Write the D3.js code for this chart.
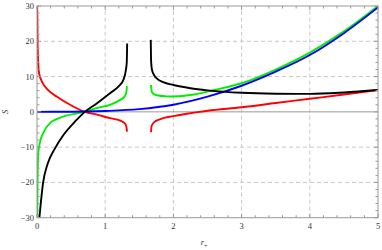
<!DOCTYPE html>
<html>
<head>
<meta charset="utf-8">
<script src="https://cdn.jsdelivr.net/npm/d3@7"></script>
<style>
  body { margin: 0; background: #fff; }
  svg { display: block; }
</style>
</head>
<body>
<div id="chart"></div>
<script>
// values, [r+, S]
const xTicks = [0, 1, 2, 3, 4, 5];
const yTicks = [-30, -20, -10, 0, 10, 20, 30];

const blue = [[0, 0], [0.5, 0.03], [1, 0.25], [1.5, 0.76], [2, 2.0], [2.5, 4.3],
  [3, 7.4], [3.5, 11.4], [4, 16.1], [4.5, 22.3], [5, 29.6]];

const greenLeft = [[0.004, -30], [0.008, -20], [0.02, -11.5], [0.045, -8.5], [0.09, -6],
  [0.19, -3.2], [0.39, -1.3], [0.7, 0], [0.9, 1.2], [1.07, 2.0], [1.22, 3.4],
  [1.29, 4.5], [1.31, 5.6], [1.318, 7.3]];
const greenRight = [[1.672, 7.6], [1.68, 6.0], [1.7, 5.2], [1.76, 4.7], [1.9, 4.4],
  [2.0, 4.35], [2.3, 4.9], [2.6, 6.2], [3, 8.1], [3.5, 12.0], [4, 16.8],
  [4.5, 22.8], [5, 30]];

const redLeft = [[0.003, 30], [0.01, 18], [0.03, 11], [0.08, 8.3], [0.16, 6.2],
  [0.3, 4.2], [0.44, 2.5], [0.7, 0], [0.88, -0.8], [1.07, -1.8], [1.22, -2.5],
  [1.29, -3.3], [1.31, -4.2], [1.32, -5.6]];
const redRight = [[1.672, -5.8], [1.68, -4.0], [1.72, -2.9], [1.8, -2.1], [2.0, -1.2],
  [2.5, 0.3], [3, 1.3], [3.5, 2.5], [4, 3.7], [4.5, 4.9], [5, 6.2]];

const blackLeft = [[0.035, -30], [0.09, -20], [0.16, -14.5], [0.26, -10.5], [0.39, -6.5],
  [0.58, -2.3], [0.7, 0], [0.88, 2.45], [1.07, 5.3], [1.2, 7.3], [1.27, 9.2],
  [1.3, 11.5], [1.316, 14], [1.322, 19.4]];
const blackRight = [[1.668, 20.4], [1.672, 15], [1.685, 12], [1.72, 10.3], [1.76, 9.4],
  [1.85, 8.4], [2.0, 7.6], [2.25, 6.7], [2.5, 6.1], [3, 5.4], [3.5, 5.15],
  [4, 5.1], [4.5, 5.5], [5, 6.2]];

const series = [
  { name: "red", color: "#ff0000", parts: [redLeft, redRight] },
  { name: "green", color: "#00ee00", parts: [greenLeft, greenRight] },
  { name: "blue", color: "#0000ff", parts: [blue] },
  { name: "black", color: "#000000", parts: [blackLeft, blackRight] }
];

const W = 382, H = 250;
const margin = { top: 6, right: 4, bottom: 32.3, left: 37 };

const svg = d3.select("#chart").append("svg")
  .attr("width", W).attr("height", H);

const x = d3.scaleLinear().domain([0, 5]).range([margin.left, W - margin.right]);
const y = d3.scaleLinear().domain([-30, 30]).range([H - margin.bottom, margin.top]);

// grid
svg.append("g")
  .attr("stroke", "#c8c8c8").attr("stroke-dasharray", "4,3").attr("stroke-width", 1)
  .selectAll("line")
  .data([1, 2, 3, 4])
  .join("line")
  .attr("x1", d => x(d)).attr("x2", d => x(d))
  .attr("y1", y(-30)).attr("y2", y(30));
svg.append("g")
  .attr("stroke", "#c8c8c8").attr("stroke-dasharray", "4,3").attr("stroke-width", 1)
  .selectAll("line")
  .data([-20, -10, 10, 20])
  .join("line")
  .attr("x1", x(0)).attr("x2", x(5))
  .attr("y1", d => y(d)).attr("y2", d => y(d));

// zero axis
svg.append("line")
  .attr("x1", x(0)).attr("x2", x(5))
  .attr("y1", y(0)).attr("y2", y(0))
  .attr("stroke", "#999").attr("stroke-width", 1);

// curves
svg.append("clipPath").attr("id", "clip")
  .append("rect")
  .attr("x", x(0)).attr("y", y(30))
  .attr("width", x(5) - x(0)).attr("height", y(-30) - y(30));

const line = d3.line()
  .x(d => x(d[0])).y(d => y(d[1]))
  .curve(d3.curveMonotoneX);

const curves = svg.append("g").attr("clip-path", "url(#clip)")
  .attr("fill", "none").attr("stroke-width", 1.9)
  .attr("stroke-linejoin", "round");
series.forEach(s => {
  curves.selectAll(null)
    .data(s.parts)
    .join("path")
    .attr("stroke", s.color)
    .attr("d", line);
});

// frame with inside ticks on all four sides
const frame = svg.append("g").attr("stroke", "#999").attr("stroke-width", 1);
frame.append("rect")
  .attr("x", x(0)).attr("y", y(30))
  .attr("width", x(5) - x(0)).attr("height", y(-30) - y(30))
  .attr("fill", "none");

const xMinor = d3.range(0, 5.001, 0.2).map(v => +v.toFixed(1));
const yMinor = d3.range(-30, 30.001, 2);
const isMajorX = v => Math.abs(v - Math.round(v)) < 1e-6;
const isMajorY = v => v % 10 === 0;

xMinor.forEach(v => {
  const len = isMajorX(v) ? 4 : 2.5;
  frame.append("line").attr("x1", x(v)).attr("x2", x(v))
    .attr("y1", y(-30)).attr("y2", y(-30) - len);
  frame.append("line").attr("x1", x(v)).attr("x2", x(v))
    .attr("y1", y(30)).attr("y2", y(30) + len);
});
yMinor.forEach(v => {
  const len = isMajorY(v) ? 4 : 2.5;
  frame.append("line").attr("y1", y(v)).attr("y2", y(v))
    .attr("x1", x(0)).attr("x2", x(0) + len);
  frame.append("line").attr("y1", y(v)).attr("y2", y(v))
    .attr("x1", x(5)).attr("x2", x(5) - len);
});

// tick labels
const labels = svg.append("g")
  .attr("font-family", "'Liberation Serif', 'DejaVu Serif', serif")
  .attr("font-size", 8.5).attr("fill", "#333");
labels.selectAll(".xl")
  .data(xTicks)
  .join("text")
  .attr("x", d => x(d)).attr("y", y(-30) + 11)
  .attr("text-anchor", "middle")
  .text(d => d);
labels.selectAll(".yl")
  .data(yTicks)
  .join("text")
  .attr("x", x(0) - 3).attr("y", d => y(d))
  .attr("dy", "0.35em")
  .attr("text-anchor", "end")
  .text(d => d < 0 ? "\u2212" + Math.abs(d) : d);

// axis titles
const xt = svg.append("text")
  .attr("x", 204).attr("y", 245)
  .attr("font-family", "'Liberation Serif', serif")
  .attr("font-size", 8.5).attr("fill", "#333")
  .attr("text-anchor", "middle");
xt.append("tspan").attr("font-style", "italic").text("r");
xt.append("tspan").attr("font-size", 6).attr("dy", 2.5).text("+");

svg.append("text")
  .attr("transform", `translate(8,${y(0)}) rotate(-90)`)
  .attr("font-family", "'Liberation Serif', serif")
  .attr("font-style", "italic")
  .attr("font-size", 8.5).attr("fill", "#333")
  .attr("text-anchor", "middle")
  .text("S");
</script>
</body>
</html>
